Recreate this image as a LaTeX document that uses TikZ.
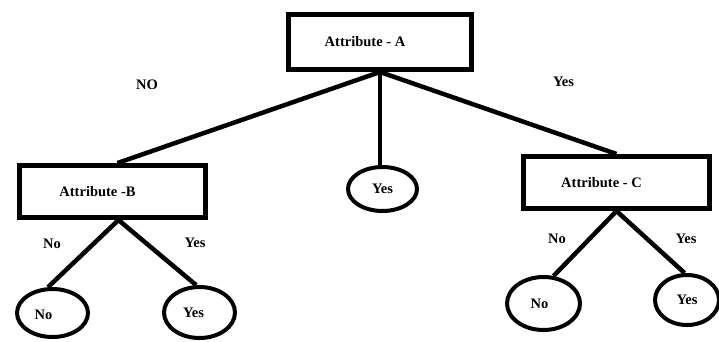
\documentclass[tikz,border=0pt]{standalone}
\usepackage{fontspec}
\setmainfont{Liberation Serif}
\usetikzlibrary{shapes.geometric,calc}
\tikzset{
  attrbox/.style={draw=black, line width=5pt, fill=white, inner sep=0pt},
  leaf/.style={draw=black, ellipse, line width=4pt, inner sep=0pt},
  edge/.style={draw=black, line width=4.5pt},
  lbl/.style={inner sep=0pt},
}
\begin{document}
\begin{tikzpicture}[x=1pt, y=-1pt, font=\fontsize{14.5}{17}\selectfont\bfseries]
\useasboundingbox[fill=white] (0,0) rectangle (719,341);
% boxes
\node[attrbox, minimum width=183pt, minimum height=55pt,
      label={[lbl, xshift=-15pt]center:Attribute - A}] (A) at (380,42) {};
\node[attrbox, minimum width=186pt, minimum height=52pt,
      label={[lbl, xshift=-15pt]center:Attribute -B}] (B) at (112.5,191.5) {};
\node[attrbox, minimum width=186pt, minimum height=52pt,
      label={[lbl, xshift=-15pt]center:Attribute - C}] (C) at (616.5,182.5) {};
% leaves
\node[leaf, minimum width=69pt, minimum height=44pt] (cyes) at (382.5,189) {Yes};
\node[leaf, minimum width=71pt, minimum height=48pt,
      label={[lbl, xshift=-9pt, yshift=-2pt]center:No}] (lno) at (52.5,313) {};
\node[leaf, minimum width=71pt, minimum height=51pt,
      label={[lbl, xshift=-6pt]center:Yes}] (lyes) at (199.5,312.5) {};
\node[leaf, minimum width=73pt, minimum height=53pt,
      label={[lbl, xshift=-4pt]center:No}] (rno) at (543.5,303.5) {};
\node[leaf, minimum width=64pt, minimum height=50pt] (ryes) at (687,300) {Yes};
% connectors
\draw[edge] (A.south) -- ($(B.north)+(5,0)$);
\draw[edge] (A.south) -- (A.south |- cyes.north);
\draw[edge] (A.south) -- (C.north);
\draw[edge] ($(B.south)+(6,0)$) -- (lno.100);
\draw[edge] ($(B.south)+(6,0)$) -- (lyes.97);
\draw[edge] (C.south) -- (rno.70);
\draw[edge] (C.south) -- (ryes.95);
% redraw boxes on top of the joints
% branch labels
\node[lbl] (lNO) at (147,85) {NO};
\node[lbl] (lYesA) at (563.5,82) {Yes};
\node[lbl] (lNoB) at (52,244) {No};
\node[lbl] (lYesB) at (195,243) {Yes};
\node[lbl] (lNoC) at (557,239) {No};
\node[lbl] (lYesC) at (686,239) {Yes};
\end{tikzpicture}
\end{document}
